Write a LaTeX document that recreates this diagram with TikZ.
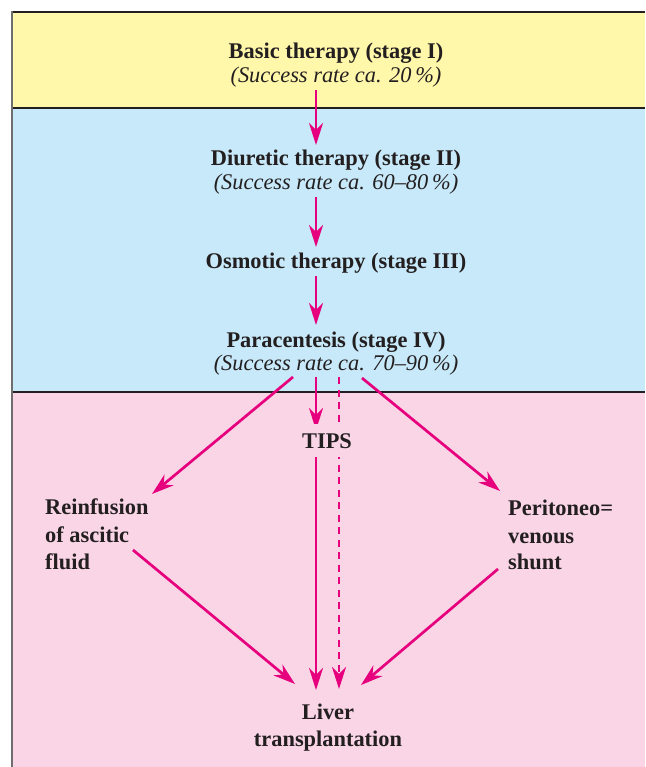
\documentclass[tikz,border=0pt]{standalone}
\usepackage{fontspec}
\setmainfont{Liberation Serif}
\usetikzlibrary{calc,arrows.meta}
\pgfdeclarelayer{back}
\pgfdeclarelayer{mid}
\pgfsetlayers{back,mid,main}
\definecolor{yel}{RGB}{255,247,170}
\definecolor{blu}{RGB}{199,233,249}
\definecolor{pnk}{RGB}{249,213,229}
\definecolor{mag}{RGB}{230,0,126}
\definecolor{ink}{RGB}{35,31,32}
\definecolor{edge}{RGB}{110,110,110}
\tikzset{
  ttl/.style={font=\bfseries\fontsize{22.4}{26}\selectfont, text=ink, inner sep=0pt, anchor=base},
  rate/.style={font=\itshape\fontsize{22.4}{26}\selectfont, text=ink, inner sep=0pt, anchor=base},
  side/.style={font=\bfseries\fontsize{22.4}{26}\selectfont, text=ink, inner sep=0pt, anchor=base west},
  arr/.style={draw=mag, line width=2.7pt, -{Stealth[length=22pt,width=14pt,inset=7pt]}},
  darr/.style={arr, dash pattern=on 7pt off 5.5pt}
}
\begin{document}
\begin{tikzpicture}[x=1pt,y=-1pt]
\useasboundingbox (0,0) rectangle (645,767);
\begin{pgfonlayer}{back}
\fill[white] (0,0) rectangle (645,767);
\fill[yel] (12,12) rectangle (645,108);
\fill[blu] (12,108) rectangle (645,392);
\fill[pnk] (12,392) rectangle (645,767);
\draw[ink, line width=1.5pt] (12,12) -- (645,12);
\draw[ink, line width=2.4pt] (12,108) -- (645,108);
\draw[ink, line width=2.4pt] (12,392) -- (645,392);
\draw[edge, line width=2pt] (12,11.3) -- (12,767);
\end{pgfonlayer}
% texts
\node[ttl]  (basic)  at (336,59)  {Basic therapy (stage I)};
\node[rate] (basicr) at (336,83)  {(Success rate ca. 20\,\%)};
\node[ttl]  (diur)   at (336,166) {Diuretic therapy (stage II)};
\node[rate] (diurr)  at (336,190) {(Success rate ca. 60–80\,\%)};
\node[ttl]  (osm)    at (336,268) {Osmotic therapy (stage III)};
\node[ttl]  (para)   at (336,347) {Paracentesis (stage IV)};
\node[rate] (parar)  at (336,370) {(Success rate ca. 70–90\,\%)};
\node[ttl, fill=pnk, inner xsep=2pt, inner ysep=9pt] (tips) at (327,448) {TIPS};
\node[side] (reinf1) at (45,514)  {Reinfusion};
\node[side] (reinf2) at (45,542)  {of ascitic};
\node[side] (reinf3) at (45,569)  {fluid};
\node[side] (peri1)  at (508,515) {Peritoneo=};
\node[side] (peri2)  at (508,543) {venous};
\node[side] (peri3)  at (508,569) {shunt};
\node[ttl]  (liver)  at (328,719) {Liver};
\node[ttl]  (liver2) at (328,746) {transplantation};
% connectors
\begin{pgfonlayer}{mid}
\draw[arr] ($(basicr.base)+(-20,7)$) -- ($(diur.base)+(-20,-21)$);
\draw[arr] ($(diurr.base)+(-20,7)$) -- ($(osm.base)+(-20,-21)$);
\draw[arr] ($(osm.base)+(-20,8)$) -- ($(para.base)+(-20,-22)$);
\draw[arr] ($(parar.base)+(-43,7)$) -- ($(reinf1.base west)+(107,-20)$);
\draw[arr] ($(parar.base)+(-20,7)$) -- ($(tips.base)+(-11,-18)$);
\draw[darr] ($(parar.base)+(3,7)$) -- ($(liver.base)+(11,-30)$);
\draw[arr] ($(parar.base)+(26,8)$) -- ($(peri1.base west)+(-8,-24)$);
\draw[arr] ($(tips.base)+(-11,9)$) -- ($(liver.base)+(-12,-29)$);
\draw[arr] ($(reinf2.base west)+(88,8)$) -- ($(liver.base)+(-33,-35)$);
\draw[arr] ($(peri3.base west)+(-10,0)$) -- ($(liver.base)+(33,-34)$);
\end{pgfonlayer}
\end{tikzpicture}
\end{document}
